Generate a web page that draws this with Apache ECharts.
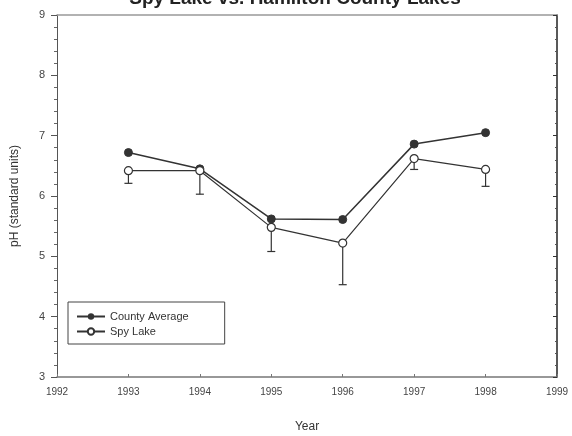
<!DOCTYPE html>
<html>
<head>
<meta charset="utf-8">
<script src="https://cdn.jsdelivr.net/npm/echarts@6/dist/echarts.min.js"></script>
<style>
  html, body { margin: 0; padding: 0; background: #fff; }
  #chart { width: 572px; height: 436px; }
</style>
</head>
<body>
<div id="chart"></div>
<script>
// 数据
const years = [1993, 1994, 1995, 1996, 1997, 1998];
const countyAvg = [6.72, 6.45, 5.62, 5.61, 6.86, 7.05];
const spyLake = [6.42, 6.42, 5.48, 5.22, 6.62, 6.44];
const spyLakeLow = [6.21, 6.03, 5.08, 4.53, 6.44, 6.16];

const font = 'Liberation Sans, Arial, sans-serif';
const ink = '#333';

const chart = echarts.init(document.getElementById('chart'));

const option = {
    animation: false,
    title: {
        text: 'Spy Lake vs. Hamilton County Lakes',
        left: 290,
        textAlign: 'center',
        top: -16,
        textStyle: { fontFamily: font, fontSize: 19, fontWeight: 'bold', color: '#222' }
    },
    grid: { left: 57, right: 15, top: 15, bottom: 59, outerBoundsMode: 'none' },
    legend: {
        orient: 'vertical',
        left: 68,
        top: 302,
        padding: [9, 36, 7, 8],
        itemGap: 4,
        itemWidth: 28,
        itemHeight: 8,
        borderColor: '#444',
        borderWidth: 1,
        textStyle: { fontFamily: font, fontSize: 11, color: '#333' },
        data: ['County Average', 'Spy Lake']
    },
    xAxis: [{
        type: 'value',
        min: 1992,
        max: 1999,
        interval: 1,
        name: 'Year',
        nameLocation: 'middle',
        nameGap: 44,
        nameTextStyle: { fontFamily: font, fontSize: 12, color: '#333' },
        axisLine: { lineStyle: { color: '#777', width: 1.5 } },
        axisTick: { inside: true, length: 3, lineStyle: { color: '#777' } },
        axisLabel: {
            fontFamily: font, fontSize: 10, color: '#444', margin: 10,
            formatter: v => String(v)
        },
        splitLine: { show: false }
    }, {
        type: 'value',
        position: 'top',
        min: 1992,
        max: 1999,
        axisLine: { show: true, lineStyle: { color: '#999', width: 1.5 } },
        axisTick: { show: false },
        axisLabel: { show: false },
        splitLine: { show: false }
    }],
    yAxis: [{
        type: 'value',
        min: 3,
        max: 9,
        interval: 1,
        name: 'pH (standard units)',
        nameLocation: 'middle',
        nameGap: 36,
        nameTextStyle: { fontFamily: font, fontSize: 12, color: '#333' },
        axisLine: { show: true, lineStyle: { color: '#555', width: 1 } },
        axisTick: { length: 6, lineStyle: { color: '#555' } },
        minorTick: { show: true, splitNumber: 5, length: 3, lineStyle: { color: '#666' } },
        axisLabel: { fontFamily: font, fontSize: 11, color: '#444', margin: 12 },
        splitLine: { show: false }
    }, {
        type: 'value',
        position: 'right',
        min: 3,
        max: 9,
        interval: 1,
        axisLine: { show: true, lineStyle: { color: '#222', width: 1.5 } },
        axisTick: { inside: true, length: 4, lineStyle: { color: '#333' } },
        minorTick: { show: true, splitNumber: 5, length: 2, lineStyle: { color: '#555' } },
        axisLabel: { show: false },
        splitLine: { show: false }
    }],
    series: [{
        name: 'Spy Lake error',
        type: 'custom',
        z: 1,
        data: years.map((y, i) => [y, spyLake[i], spyLakeLow[i]]),
        renderItem: function (params, api) {
            const top = api.coord([api.value(0), api.value(1)]);
            const bot = api.coord([api.value(0), api.value(2)]);
            const w = 4;
            return {
                type: 'group',
                children: [{
                    type: 'line',
                    shape: { x1: top[0], y1: top[1], x2: bot[0], y2: bot[1] },
                    style: { stroke: ink, lineWidth: 1.2 }
                }, {
                    type: 'line',
                    shape: { x1: bot[0] - w, y1: bot[1], x2: bot[0] + w, y2: bot[1] },
                    style: { stroke: ink, lineWidth: 1.2 }
                }]
            };
        }
    }, {
        name: 'County Average',
        type: 'line',
        z: 3,
        data: years.map((y, i) => [y, countyAvg[i]]),
        symbol: 'circle',
        symbolSize: 8,
        lineStyle: { color: ink, width: 1.5 },
        itemStyle: { color: ink, borderColor: ink }
    }, {
        name: 'Spy Lake',
        type: 'line',
        z: 4,
        data: years.map((y, i) => [y, spyLake[i]]),
        symbol: 'circle',
        symbolSize: 8,
        showAllSymbol: true,
        lineStyle: { color: ink, width: 1.2 },
        itemStyle: { color: '#fff', borderColor: ink, borderWidth: 1.2 }
    }]
};

chart.setOption(option);
</script>
</body>
</html>
